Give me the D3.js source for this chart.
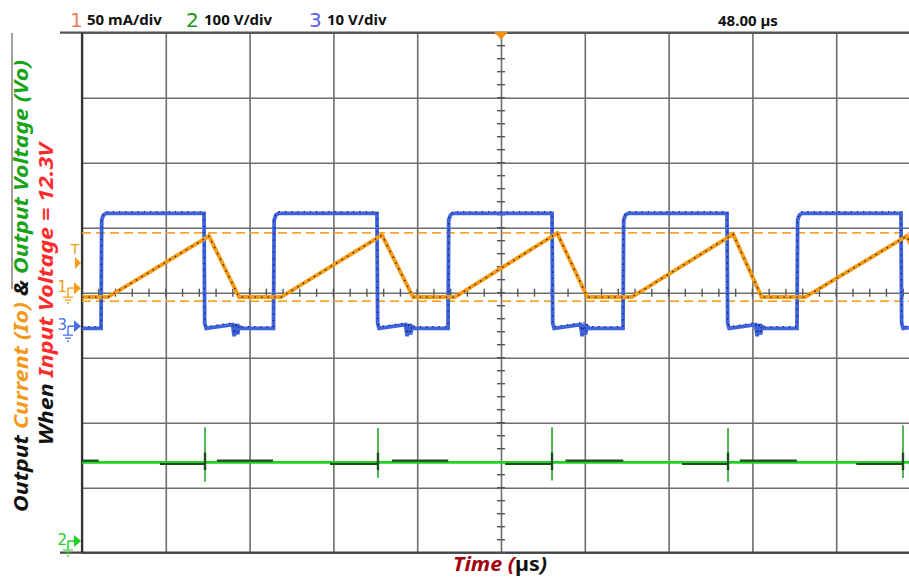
<!DOCTYPE html>
<html><head><meta charset="utf-8">
<script src="https://cdn.jsdelivr.net/npm/d3@7"></script>
<style>body{margin:0;background:#fff}svg{display:block}</style>
</head><body>
<svg id="chart" width="909" height="579"></svg>
<script>
// ---------------- DATA ----------------
const channelNumbers = ["1", "2", "3"];
const channelScales  = ["50 mA/div", "100 V/div", "10 V/div"];
const triggerTime    = "48.00 µs";
const yLine1 = [["Output ", "#111"], ["Current (Io) ", "#f39a1e"], ["& ", "#111"], ["Output Voltage (Vo)", "#19a319"]];
const yLine2 = [["When ", "#111"], ["Input Voltage = 12.3V", "#ff2a2a"]];
const xTitle = [["Time (", "#a3000f", "italic"], ["µs", "#111", "normal"], [")", "#111", "italic"]];

// time axis in screen divisions (0..10)
const xTicks = [0, 1, 2, 3, 4, 5, 6, 7, 8, 9, 10];
const yTicks = [-4, -3, -2, -1, 0, 1, 2, 3, 4];

// channel ground marker offsets (divisions from centre)
const ch1Offset = 0.07, ch2Offset = -3.82, ch3Offset = -0.50;

// CH3 switch-node voltage (V), 10 V/div
const swRise = [0.227, 2.285, 4.368, 6.456, 8.532];
const swFall = [1.456, 3.520, 5.609, 7.697, 9.773];
const swHigh = 17.2, swLow = -0.5;
const ringDt  = [0.34, 0.36, 0.38, 0.40, 0.42, 0.45];
const ringDv  = [0.6, -1.2, 0.7, -0.9, 0.3, 0.0];

// CH1 output current (mA), 50 mA/div
const ioRampStart = [0.31, 2.375, 4.45, 6.56, 8.63];
const ioPeakT     = [1.516, 3.58, 5.67, 7.77, 9.84];
const ioPeak      = [40.0, 40.8, 42.3, 41.5, 40.0];
const ioValleyT   = [1.874, 3.95, 6.03, 8.11];
const ioMin = -6.9;
const ioEnd = 19;
const cursorsMA = [42.5, -10.0];

// CH2 output voltage (V), 100 V/div
const voBase = 121, voPre = 118.5, voPost = 123.6;
const spikeT    = [1.468, 3.532, 5.609, 7.709, 9.797];
const spikeHigh = [175, 174, 175, 174, 178];
const spikeLow  = [91, 97, 93, 91, 97];
const preStart  = [0.93, 2.96, 5.05, 7.16, 9.24];
const postStart = [0.0, 1.61, 3.70, 5.77, 7.85];
const postEnd   = [0.2, 2.28, 4.37, 6.46, 8.53];

// ---------------- CHART ----------------
const svg = d3.select("#chart");
const W = 909, H = 579;
const L = 82, R = 920, T = 32.7, B = 552.7;
const x = d3.scaleLinear().domain([0, 10]).range([L, R]);
const yDiv = d3.scaleLinear().domain([-4, 4]).range([B, T]);
const y1 = v => yDiv(ch1Offset + v / 50);
const y2 = v => yDiv(ch2Offset + v / 100);
const y3 = v => yDiv(ch3Offset + v / 10);

svg.append("defs").append("clipPath").attr("id", "plot")
  .append("rect").attr("x", L).attr("y", T - 1).attr("width", W - L).attr("height", B - T + 2);

// grid via axes
const gx = svg.append("g").attr("transform", `translate(0,${B})`)
  .call(d3.axisBottom(x).tickValues(xTicks).tickSize(-(B - T)).tickFormat(""));
gx.select(".domain").remove();
gx.selectAll(".tick line").attr("stroke", "#6e6e6e").attr("stroke-width", 1.6);
const gy = svg.append("g").attr("transform", `translate(${L},0)`)
  .call(d3.axisLeft(yDiv).tickValues(yTicks).tickSize(-(W - L)).tickFormat(""));
gy.select(".domain").remove();
gy.selectAll(".tick line").attr("stroke", "#6e6e6e").attr("stroke-width", 1.6);

// frame
svg.append("line").attr("x1", 60).attr("x2", W).attr("y1", T).attr("y2", T).attr("stroke", "#555").attr("stroke-width", 2.2);
svg.append("line").attr("x1", 60).attr("x2", W).attr("y1", B).attr("y2", B).attr("stroke", "#444").attr("stroke-width", 2.2);
svg.append("line").attr("x1", L).attr("x2", L).attr("y1", T).attr("y2", B).attr("stroke", "#333").attr("stroke-width", 2.2);
svg.append("line").attr("x1", 12).attr("x2", 12).attr("y1", 33).attr("y2", 289).attr("stroke", "#444").attr("stroke-width", 1);

// centre minor ticks
const minorY = d3.range(-20, 21).map(d => d / 5);
const minorX = d3.range(0, 51).map(d => d / 5);
svg.append("g").selectAll("line").data(minorY).join("line")
  .attr("x1", x(5) - 4).attr("x2", x(5) + 4).attr("y1", d => yDiv(d)).attr("y2", d => yDiv(d))
  .attr("stroke", "#555").attr("stroke-width", 1.4);
svg.append("g").attr("clip-path", "url(#plot)").selectAll("line").data(minorX).join("line")
  .attr("x1", d => x(d)).attr("x2", d => x(d)).attr("y1", yDiv(0) - 4).attr("y2", yDiv(0) + 4)
  .attr("stroke", "#555").attr("stroke-width", 1.4);

const plot = svg.append("g").attr("clip-path", "url(#plot)");

// orange cursors
cursorsMA.forEach(v => {
  plot.append("line").attr("x1", L).attr("x2", W).attr("y1", y1(v)).attr("y2", y1(v))
    .attr("stroke", "#f7a531").attr("stroke-width", 1.8).attr("stroke-dasharray", "9,5");
});

// CH2 green
plot.append("line").attr("x1", L).attr("x2", W).attr("y1", y2(voBase)).attr("y2", y2(voBase))
  .attr("stroke", "#1fd21f").attr("stroke-width", 2.6);
preStart.forEach((s, i) => {
  plot.append("line").attr("x1", x(s)).attr("x2", x(spikeT[i])).attr("y1", y2(voPre)).attr("y2", y2(voPre))
    .attr("stroke", "#1c4d1c").attr("stroke-width", 2.2);
});
postStart.forEach((s, i) => {
  plot.append("line").attr("x1", x(s)).attr("x2", x(postEnd[i])).attr("y1", y2(voPost)).attr("y2", y2(voPost))
    .attr("stroke", "#1c4d1c").attr("stroke-width", 2.2);
});
spikeT.forEach((t, i) => {
  plot.append("line").attr("x1", x(t)).attr("x2", x(t)).attr("y1", y2(spikeHigh[i])).attr("y2", y2(spikeLow[i]))
    .attr("stroke", "#1a9f1a").attr("stroke-width", 1.5);
  plot.append("line").attr("x1", x(t)).attr("x2", x(t)).attr("y1", y2(voBase + 15)).attr("y2", y2(voBase - 12))
    .attr("stroke", "#1c4d1c").attr("stroke-width", 2.4);
});

// CH3 blue
const swPts = [[0, swLow]];
swRise.forEach((r, i) => {
  swPts.push([r, swLow], [r + 0.008, swHigh - 1.0], [r + 0.03, swHigh - 0.25], [r + 0.06, swHigh]);
  const f = swFall[i];
  swPts.push([f, swHigh], [f + 0.008, swLow + 0.8], [f + 0.025, swLow]);
  ringDt.forEach((dt, k) => swPts.push([f + dt, swLow + ringDv[k]]));
});
swPts.push([10, swLow]);
const line = d3.line();
const swLine = swPts.map(p => [x(p[0]), y3(p[1])]);
plot.append("path").attr("d", line(swLine)).attr("fill", "none").attr("stroke", "#3e63df").attr("stroke-width", 3.8);
plot.append("path").attr("d", line(swLine)).attr("fill", "none").attr("stroke", "#1b1b40")
  .attr("stroke-width", 1.2).attr("stroke-dasharray", "1.2,5").attr("transform", "translate(0,-1.8)");

// CH1 orange
const ioPts = [[0, ioMin]];
ioRampStart.forEach((s, i) => {
  ioPts.push([s, ioMin], [ioPeakT[i], ioPeak[i]]);
  if (i < ioValleyT.length) ioPts.push([ioValleyT[i], ioMin]);
});
ioPts.push([10, ioEnd]);
const ioLine = ioPts.map(p => [x(p[0]), y1(p[1])]);
plot.append("path").attr("d", line(ioLine)).attr("fill", "none").attr("stroke", "#f59b14").attr("stroke-width", 4);
plot.append("path").attr("d", line(ioLine)).attr("fill", "none").attr("stroke", "#3a2400")
  .attr("stroke-width", 1.4).attr("stroke-dasharray", "1.5,5");

// trigger marker
svg.append("path").attr("d", `M${x(5) - 7},${T - 1} L${x(5) + 7},${T - 1} L${x(5)},${T + 7} Z`).attr("fill", "#f5900f");

// ground markers
function marker(yc, label, color) {
  const g = svg.append("g");
  g.append("path").attr("d", `M68,${yc} V${yc + 9} M68,${yc} H74`).attr("stroke", color).attr("stroke-width", 1.4).attr("fill", "none");
  g.append("path").attr("d", `M74,${yc - 6} L81,${yc} L74,${yc + 6} Z`).attr("fill", color);
  g.append("path").attr("d", `M63,${yc + 9} H73 M65,${yc + 12} H71 M67,${yc + 15} H69`).attr("stroke", color).attr("stroke-width", 1.2);
  g.append("text").attr("x", 67).attr("y", yc + 4).attr("text-anchor", "end")
    .attr("font-family", "DejaVu Sans").attr("font-size", 15).attr("fill", color).text(label);
}
marker(yDiv(ch1Offset), "1", "#f59b14");
marker(yDiv(ch3Offset) + 1, "3", "#4a6ef0");
marker(yDiv(ch2Offset), "2", "#22d022");
svg.append("text").attr("x", 75).attr("y", 254).attr("text-anchor", "middle")
  .attr("font-family", "DejaVu Sans").attr("font-size", 14).attr("fill", "#f59b14").text("T");
svg.append("path").attr("d", "M75,257 L81,263 L75,269 Z").attr("fill", "#f59b14");

// header
const hdr = [[70, 186, 309], [87, 204, 327]];
const numColors = ["#e8805c", "#169a16", "#5a62e8"];
channelNumbers.forEach((n, i) => {
  svg.append("text").attr("x", hdr[0][i]).attr("y", 27).attr("font-family", "DejaVu Sans").attr("font-size", 20)
    .attr("fill", numColors[i]).text(n);
  svg.append("text").attr("x", hdr[1][i]).attr("y", 25).attr("font-family", "Noto Sans").attr("font-weight", "bold")
    .attr("font-size", 15).attr("fill", "#111").text(channelScales[i]);
});
svg.append("text").attr("x", 718).attr("y", 26).attr("font-family", "Noto Sans").attr("font-weight", "bold")
  .attr("font-size", 15).attr("fill", "#111").text(triggerTime);

// y labels
function rotLabel(parts, cx, cy, len) {
  const t = svg.append("text").attr("transform", `translate(${cx},${cy}) rotate(-90)`)
    .attr("text-anchor", "middle").attr("font-family", "Noto Sans").attr("font-weight", "bold")
    .attr("font-style", "italic").attr("font-size", 20).attr("textLength", len).attr("lengthAdjust", "spacingAndGlyphs");
  parts.forEach(p => t.append("tspan").attr("fill", p[1]).text(p[0]));
}
rotLabel(yLine1, 28, 286, 452);
rotLabel(yLine2, 53, 294, 302);

// x title
const xt = svg.append("text").attr("x", 500).attr("y", 571).attr("text-anchor", "middle")
  .attr("font-family", "Noto Sans").attr("font-weight", "bold").attr("font-size", 20)
  .attr("textLength", 94).attr("lengthAdjust", "spacingAndGlyphs");
xTitle.forEach(p => xt.append("tspan").attr("fill", p[1]).attr("font-style", p[2]).text(p[0]));
</script>
</body></html>
